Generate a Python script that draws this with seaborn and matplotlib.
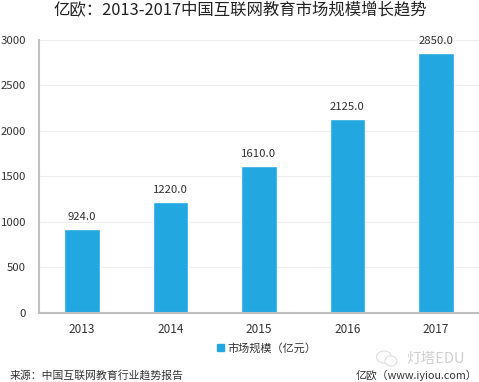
import pandas as pd
import seaborn as sns
import matplotlib.pyplot as plt
from matplotlib.patches import Ellipse

years = ['2013', '2014', '2015', '2016', '2017']
market_size = [924.0, 1220.0, 1610.0, 2125.0, 2850.0]
y_ticks = [0, 500, 1000, 1500, 2000, 2500, 3000]

BLUE = '#22a7e0'
TEXT = '#333333'
W, H = 479, 382

sns.set_theme(style='white')
plt.rcParams['font.family'] = ['Noto Sans CJK SC', 'DejaVu Sans']

df = pd.DataFrame({'year': years, 'size': market_size})

fig = plt.figure(figsize=(W / 100, H / 100), dpi=100)
ax = fig.add_axes([38.5 / W, 1 - 313 / H, 442.5 / W, (313 - 39.5) / H])

sns.barplot(data=df, x='year', y='size', color=BLUE, saturation=1, width=0.4, ax=ax)

ax.set_xlim(-0.49, 4.51)
ax.set_ylim(0, 3000)
ax.set_yticks(y_ticks)
ax.set_xlabel('')
ax.set_ylabel('')
ax.tick_params(axis='x', length=0, labelsize=8.5, labelcolor=TEXT, pad=7.5)
ax.tick_params(axis='y', length=0, labelsize=8.2, labelcolor=TEXT, pad=9)

ax.grid(axis='y', color='#eeeeee', lw=0.8)
ax.set_axisbelow(True)
for side in ['top', 'right']:
    ax.spines[side].set_visible(False)
for side in ['left', 'bottom']:
    ax.spines[side].set_color('#bfbfbf')
    ax.spines[side].set_linewidth(1.5)

for container in ax.containers:
    ax.bar_label(container, fmt='%.1f', padding=5, fontsize=8.2, color=TEXT)

fig.text(240 / W, 1 - 9.5 / H, '亿欧：2013-2017中国互联网教育市场规模增长趋势',
         ha='center', va='center', fontsize=11.8, color='#222222')

# legend marker and label
fig.patches.append(plt.Rectangle((217 / W, 1 - 351 / H), 7 / W, 7 / H, color=BLUE,
                                 transform=fig.transFigure, figure=fig))
fig.text(227 / W, 1 - 348 / H, '市场规模（亿元）', ha='left', va='center',
         fontsize=8, color=TEXT)

# watermark
for cx, cy, ew, eh in [(384, 357, 15, 12), (391, 361, 12, 10)]:
    fig.patches.append(Ellipse((cx / W, 1 - cy / H), ew / W, eh / H, fc='white', ec='#e2e2e2',
                               lw=0.9, transform=fig.transFigure, figure=fig))
fig.text(406 / W, 1 - 359 / H, '灯塔EDU', ha='left', va='center', fontsize=10.5, color='#d0d0d0')

fig.text(10 / W, 1 - 375 / H, '来源：中国互联网教育行业趋势报告', ha='left', va='center',
         fontsize=7.8, color=TEXT)
fig.text(477 / W, 1 - 375 / H, '亿欧（www.iyiou.com）', ha='right', va='center',
         fontsize=7.8, color=TEXT)

fig.savefig('out.png', dpi=100)
